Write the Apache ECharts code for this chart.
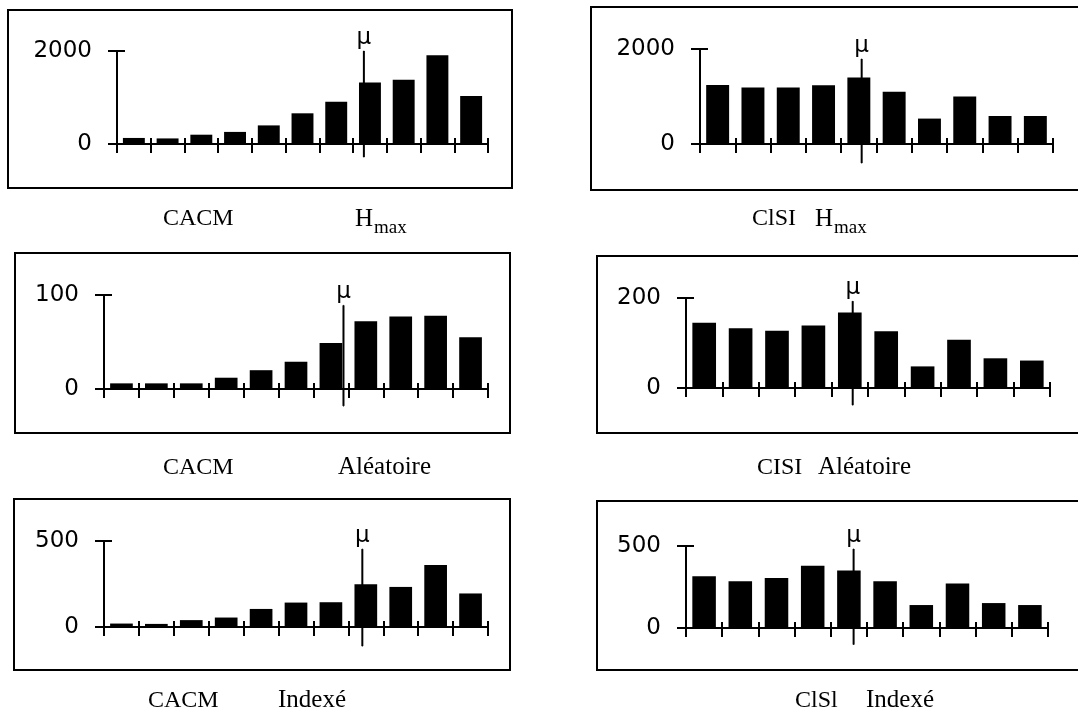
<!DOCTYPE html>
<html><head><meta charset="utf-8">
<script src="https://cdn.jsdelivr.net/npm/echarts@6/dist/echarts.min.js"></script>
<style>html,body{margin:0;padding:0;background:#fff}#c{width:1078px;height:726px}</style>
</head><body><div id="c"></div>
<script>
// ---- data ----
const catsCACM = ['1','2','3','4','5','6','7','8','9','10','11'];
const catsCISI = ['1','2','3','4','5','6','7','8','9','10'];

const cacmHmax  = [130, 120, 200, 260, 400, 660, 910, 1320, 1380, 1910, 1030];
const cisiHmax  = [1240, 1190, 1190, 1235, 1400, 1100, 535, 1000, 590, 590];
const cacmAlea  = [6, 6, 6, 12, 20, 29, 49, 72, 77, 78, 55];
const cisiAlea  = [145, 133, 127, 139, 168, 126, 48, 107, 66, 61];
const cacmIndex = [20, 18, 40, 55, 105, 142, 144, 249, 233, 360, 195];
const cisiIndex = [315, 285, 305, 380, 350, 285, 140, 271, 152, 140];

// y-axis extents (tick labels 0 and max)
const yMaxes = [2000, 2000, 100, 200, 500, 500];
// mean marker (position along the x scale, lower and upper end values)
const muPos  = [7.32, 4.58, 6.86, 4.58, 7.40, 4.63];
const muLow  = [-280, -400, -18, -38, -111, -101];
const muHigh = [2000, 1790, 89, 193, 453, 482];

const collection = ['CACM', 'ClSI', 'CACM', 'CISI', 'CACM', 'ClSl'];
const method = ['H', 'H', 'Aléatoire', 'Aléatoire', 'Indexé', 'Indexé'];

const seriesValues = [cacmHmax, cisiHmax, cacmAlea, cisiAlea, cacmIndex, cisiIndex];
const seriesCats = [catsCACM, catsCISI, catsCACM, catsCISI, catsCACM, catsCISI];

// ---- layout ----
const grids = [
  {left:117, top:51, width:371, height:93},
  {left:700, top:49, width:353, height:95},
  {left:104, top:295, width:384, height:94},
  {left:686, top:298, width:364, height:90},
  {left:104, top:541, width:384, height:86},
  {left:686, top:546, width:362, height:82}
];
const boxes = [
  [8, 10, 504, 178], [591, 7, 500, 183],
  [15, 253, 495, 180], [597, 256, 500, 177],
  [14, 499, 496, 171], [597, 501, 500, 169]
];
const titlePos = [
  {c:[163,207], m:[355,207], sub:[374,219]},
  {c:[752,207], m:[815,207], sub:[834,219]},
  {c:[163,456], m:[338,455]},
  {c:[757,456], m:[818,455]},
  {c:[148,689], m:[278,688]},
  {c:[795,689], m:[866,688]}
];

const serif = 'Liberation Serif';
const sans = 'DejaVu Sans';
const xAxes = [], yAxes = [], series = [], titles = [], graphics = [];

grids.forEach((g, i) => {
  const n = seriesCats[i].length;
  const base = xAxes.length;
  xAxes.push({
    type:'category', gridIndex:i, data:seriesCats[i], position:'bottom', boundaryGap:true,
    axisLine:{show:true, onZero:false, lineStyle:{color:'#000', width:2}},
    axisTick:{show:true, inside:true, length:6, interval:0, lineStyle:{color:'#000', width:2}},
    axisLabel:{show:false}, splitLine:{show:false}
  });
  xAxes.push({
    type:'category', gridIndex:i, data:seriesCats[i], position:'bottom', boundaryGap:true,
    axisLine:{show:false},
    axisTick:{show:true, inside:false, length:9, interval:0, lineStyle:{color:'#000', width:2}},
    axisLabel:{show:false}, splitLine:{show:false}
  });
  xAxes.push({type:'value', gridIndex:i, min:0, max:n, show:false});
  const yb = yAxes.length;
  yAxes.push({
    type:'value', gridIndex:i, min:0, max:yMaxes[i], interval:yMaxes[i], position:'left',
    axisLine:{show:true, onZero:false, lineStyle:{color:'#000', width:2}},
    axisTick:{show:true, inside:false, length:9, lineStyle:{color:'#000', width:2}},
    axisLabel:{show:true, margin:25, color:'#000', fontFamily:sans, fontSize:23,
      formatter:v => String(v)},
    splitLine:{show:false}
  });
  yAxes.push({
    type:'value', gridIndex:i, min:0, max:yMaxes[i], interval:yMaxes[i], position:'left',
    axisLine:{show:false},
    axisTick:{show:true, inside:true, length:8, lineStyle:{color:'#000', width:2}},
    axisLabel:{show:false}, splitLine:{show:false}
  });
  series.push({
    type:'bar', xAxisIndex:base, yAxisIndex:yb, data:seriesValues[i],
    barWidth:'65%', itemStyle:{color:'#000'}, silent:true
  });
  series.push({
    type:'line', xAxisIndex:base+2, yAxisIndex:yb, clip:false, silent:true,
    symbol:'circle', symbolSize:1, showSymbol:true,
    lineStyle:{color:'#000', width:2}, itemStyle:{color:'#000'},
    data:[
      {value:[muPos[i], muLow[i]]},
      {value:[muPos[i], muHigh[i]], label:{show:true, formatter:'μ', position:'top', distance:1,
        color:'#000', fontFamily:sans, fontSize:23}}
    ]
  });
  const tp = titlePos[i];
  titles.push({text:collection[i], left:tp.c[0], top:tp.c[1], padding:0,
    textStyle:{fontFamily:serif, fontSize:24, fontWeight:'normal', color:'#000'}});
  titles.push({text:method[i], left:tp.m[0], top:tp.m[1], padding:0,
    textStyle:{fontFamily:serif, fontSize:25, fontWeight:'normal', color:'#000'}});
  if (tp.sub) {
    titles.push({text:'max', left:tp.sub[0], top:tp.sub[1], padding:0,
      textStyle:{fontFamily:serif, fontSize:19, fontWeight:'normal', color:'#000'}});
  }
  const b = boxes[i];
  graphics.push({type:'rect', shape:{x:b[0], y:b[1], width:b[2], height:b[3]}, silent:true,
    style:{fill:'none', stroke:'#000', lineWidth:2}});
});

const chart = echarts.init(document.getElementById('c'), null, {renderer:'canvas'});
chart.setOption({
  animation:false,
  backgroundColor:'#fff',
  title:titles,
  grid:grids.map(g => Object.assign({containLabel:false}, g)),
  xAxis:xAxes, yAxis:yAxes, series:series,
  graphic:graphics
});
</script></body></html>
